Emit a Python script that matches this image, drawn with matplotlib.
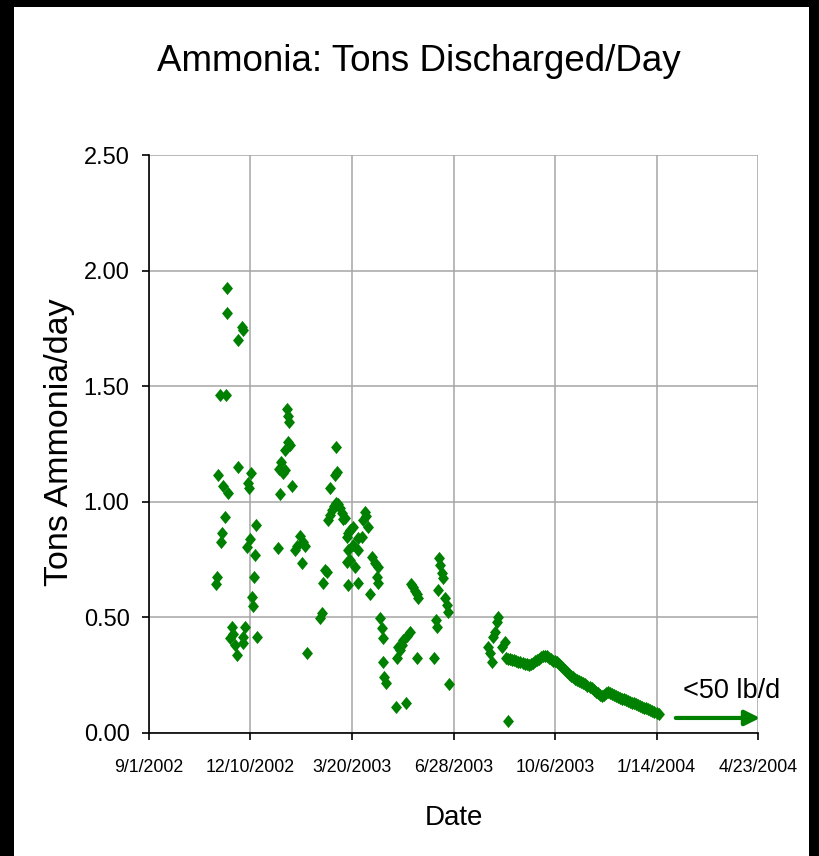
import matplotlib
matplotlib.use("Agg")
import matplotlib.pyplot as plt
import matplotlib.patches as mpatches
from matplotlib.path import Path
import pandas as pd

# sample dates given as days after 9/1/2002, values in tons of ammonia per day
start_date = "2002-09-01"
end_date = "2004-04-23"

days_early = [66.0, 66.7, 68.0, 70.0, 70.6, 71.6, 72.9, 74.9, 75.9, 77.1, 77.1, 77.8,
              79.8, 81.5, 83.0, 84.7, 86.4, 87.4, 88.0, 91.3, 92.5, 92.3, 92.9, 94.6,
              96.3, 97.5, 98.5, 99.5, 100.5, 101.2, 102.8, 103.7, 104.4, 105.0, 106.1]
tons_early = [0.645, 0.675, 1.116, 1.46, 0.826, 0.865, 1.07, 0.935, 1.46, 1.923, 1.818, 1.04,
              0.41, 0.46, 0.43, 0.38, 0.337, 1.15, 1.70, 1.755, 1.745, 0.388, 0.417, 0.46,
              0.806, 1.08, 1.06, 0.84, 1.125, 0.59, 0.55, 0.676, 0.77, 0.90, 0.414]

days_winter = [127.0, 128.0, 129.0, 130.0, 132.0, 134.0, 134.0, 135.7, 136.5, 137.5, 136.5,
               138.5, 140.6, 143.8, 146.0, 148.8, 150.4, 152.0, 153.7, 155.4]
tons_winter = [0.80, 1.14, 1.034, 1.173, 1.123, 1.137, 1.225, 1.40, 1.37, 1.345, 1.26,
               1.245, 1.07, 0.79, 0.81, 0.85, 0.735, 0.827, 0.81, 0.345]

days_spring = [168.5, 170.1, 171.7, 173.4, 175.4, 176.5, 178.3, 178.5, 180.5, 182.5, 183.3,
               184.2, 184.5, 184.9, 186.5, 188.5, 190.0, 191.5, 193.1, 194.8, 194.8, 196.4,
               196.4, 196.4, 198.0, 198.0, 201.3, 201.3, 203.0, 206.2, 206.2, 206.2, 209.5,
               211.1, 212.8, 214.0, 216.0, 217.7, 219.4, 222.7, 224.3, 226.0, 226.0, 227.6,
               229.3, 230.2, 230.8, 231.5, 233.8, 243.3, 244.0, 245.6, 247.3, 249.0, 250.5,
               253.2, 254.0, 257.1, 258.0, 260.0, 262.0, 263.7, 264.0, 265.5, 280.8, 282.8,
               283.4, 285.0, 286.0, 286.7, 288.4, 290.0, 291.6, 293.3, 294.9, 295.9]
tons_spring = [0.496, 0.518, 0.648, 0.705, 0.698, 0.92, 1.06, 0.945, 0.965, 0.98, 1.116,
               1.238, 0.995, 1.13, 0.99, 0.975, 0.95, 0.925, 0.929, 0.849, 0.74, 0.864,
               0.79, 0.64, 0.878, 0.748, 0.892, 0.813, 0.72, 0.842, 0.79, 0.647, 0.849,
               0.921, 0.957, 0.94, 0.892, 0.60, 0.763, 0.734, 0.676, 0.72, 0.647, 0.496,
               0.453, 0.41, 0.308, 0.244, 0.215, 0.114, 0.323, 0.373, 0.359, 0.38, 0.402,
               0.131, 0.42, 0.438, 0.645, 0.63, 0.615, 0.323, 0.60, 0.585, 0.323, 0.489,
               0.46, 0.618, 0.755, 0.727, 0.69, 0.669, 0.583, 0.554, 0.525, 0.212]

days_summer = [334.3, 336.0, 337.6, 338.6, 340.9, 342.5, 344.1, 347.5, 350.7, 354.0]
tons_summer = [0.373, 0.345, 0.308, 0.417, 0.438, 0.481, 0.503, 0.373, 0.395, 0.053]

# near-daily readings from late August 2003 to mid January 2004
days_daily = [352, 354, 356, 358, 360, 362, 364, 366, 368, 370, 372, 374, 376, 378, 380,
              382, 384, 386, 388, 390, 392, 394, 396, 398, 400, 402, 404, 406, 408, 410,
              412, 414, 416, 418, 420, 422, 424, 426, 428, 430, 432, 434, 436, 438, 440,
              442, 444, 446, 448, 450, 452, 454, 456, 458, 460, 462, 464, 466, 468, 470,
              472, 474, 476, 478, 480, 482, 484, 486, 488, 490, 492, 494, 496, 498, 500,
              502]
tons_daily = [0.326, 0.321, 0.319, 0.316, 0.314, 0.311, 0.309, 0.305, 0.302, 0.299, 0.297,
              0.296, 0.299, 0.304, 0.310, 0.317, 0.322, 0.327, 0.331, 0.335, 0.333, 0.326,
              0.318, 0.313, 0.310, 0.305, 0.298, 0.290, 0.281, 0.272, 0.264, 0.256, 0.248,
              0.241, 0.235, 0.230, 0.225, 0.220, 0.215, 0.210, 0.205, 0.199, 0.193, 0.186,
              0.179, 0.172, 0.164, 0.158, 0.163, 0.174, 0.176, 0.172, 0.168, 0.164, 0.160,
              0.156, 0.152, 0.148, 0.145, 0.141, 0.138, 0.134, 0.131, 0.128, 0.124, 0.120,
              0.117, 0.113, 0.110, 0.106, 0.102, 0.098, 0.094, 0.090, 0.086, 0.080]

tick_dates = ["2002-09-01", "2002-12-10", "2003-03-20", "2003-06-28",
              "2003-10-06", "2004-01-14", "2004-04-23"]
tick_labels = ["9/1/2002", "12/10/2002", "3/20/2003", "6/28/2003",
               "10/6/2003", "1/14/2004", "4/23/2004"]
y_ticks = [0.0, 0.5, 1.0, 1.5, 2.0, 2.5]

# "<50 lb/d" arrow note
arrow_from = "2004-02-02"
arrow_to = "2004-04-25"
arrow_level = 0.065
note_date = "2004-03-28"
note_level = 0.18
note_text = "<50 lb/d"

font = ["Liberation Sans", "DejaVu Sans"]
green = "#008000"

days = days_early + days_winter + days_spring + days_summer + days_daily
tons = tons_early + tons_winter + tons_spring + tons_summer + tons_daily
dates = pd.Timestamp(start_date) + pd.to_timedelta(days, unit="D")

fig = plt.figure(figsize=(8.2, 8.56), dpi=100, facecolor="black")
# white sheet inside the black frame, kept behind the axes
fig.patches.append(mpatches.Rectangle((0.017, 0.0), 0.97, 0.992, transform=fig.transFigure,
                                      facecolor="white", edgecolor="none", zorder=-5))

ax = fig.add_axes([0.1817, 0.1437, 0.7427, 0.6752])
ax.set_zorder(2)
ax.set_facecolor("white")

# diamond squeezed a bit horizontally, like the source picture
diamond = Path([(0, 1), (0.83, 0), (0, -1), (-0.83, 0), (0, 1)],
               [Path.MOVETO, Path.LINETO, Path.LINETO, Path.LINETO, Path.CLOSEPOLY])
ax.plot(dates, tons, linestyle="none", marker=diamond, markersize=9.5,
        color=green, markeredgewidth=0, zorder=3)

ax.set_xlim(pd.Timestamp(start_date), pd.Timestamp(end_date))
ax.set_ylim(0, 2.5)
ax.set_xticks(pd.to_datetime(tick_dates))
ax.set_xticklabels(tick_labels, family=font, fontsize=12.8)
ax.set_yticks(y_ticks)
ax.set_yticklabels(["%.2f" % v for v in y_ticks], family=font, fontsize=17)

ax.grid(True, color="#a6a6a6", linewidth=1.1, zorder=0)
ax.set_axisbelow(True)
for s in ["top", "right"]:
    ax.spines[s].set_visible(False)
for s in ["left", "bottom"]:
    ax.spines[s].set_linewidth(1.2)
ax.tick_params(axis="x", direction="out", length=5, width=1.2, pad=14)
ax.tick_params(axis="y", direction="out", length=5, width=1.2, pad=9)

ax.annotate("", xy=(pd.Timestamp(arrow_to), arrow_level),
            xytext=(pd.Timestamp(arrow_from), arrow_level),
            arrowprops=dict(arrowstyle="-|>,head_length=0.9,head_width=0.45",
                            color=green, lw=3, shrinkA=0, shrinkB=0),
            annotation_clip=False)
ax.text(pd.Timestamp(note_date), note_level, note_text, family=font, fontsize=19.5,
        ha="center", va="center")

fig.text(0.511, 0.9276, "Ammonia: Tons Discharged/Day", family=font, fontsize=26.5,
         ha="center", va="center")
fig.text(0.072, 0.4836, "Tons Ammonia/day", family=font, fontsize=24.5,
         rotation=90, ha="center", va="center")
fig.text(0.5537, 0.0444, "Date", family=font, fontsize=20, ha="center", va="center")

fig.savefig("out.png", dpi=100, facecolor=fig.get_facecolor())
